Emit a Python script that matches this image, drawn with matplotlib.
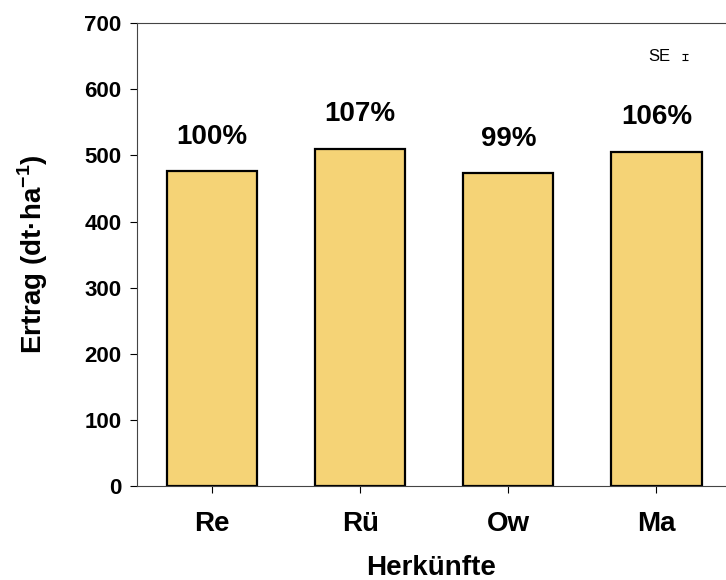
import matplotlib
matplotlib.use('Agg')
import matplotlib.pyplot as plt

plt.rcParams['font.family'] = ['Liberation Sans', 'DejaVu Sans']
plt.rcParams['mathtext.fontset'] = 'custom'
plt.rcParams['mathtext.bf'] = 'Liberation Sans:bold'
plt.rcParams['mathtext.rm'] = 'Liberation Sans:bold'

herkuenfte = ['Re', 'Rü', 'Ow', 'Ma']
ertrag = [476, 510, 473, 505]
relativ = ['100%', '107%', '99%', '106%']
se = 4.5
yticks = [0, 100, 200, 300, 400, 500, 600, 700]

fig = plt.figure(figsize=(7.26, 5.8), dpi=100)
ax = fig.add_axes([0.1887, 0.162, 0.8113, 0.798])

x = range(len(herkuenfte))
ax.bar(x, ertrag, width=0.61, color='#F5D376', edgecolor='black', linewidth=1.6)

for xi, v, lab in zip(x, ertrag, relativ):
    ax.annotate(lab, (xi, v), xytext=(0, 25), textcoords='offset points',
                ha='center', va='center', fontsize=20, fontweight='bold')

# SE legend
ax.errorbar([3.19], [649], yerr=[se], fmt='none', ecolor='black',
            elinewidth=0.8, capsize=2.5, capthick=0.8)
ax.text(3.02, 649, 'SE', ha='center', va='center', fontsize=12)

ax.set_xlim(-0.507, 3.47)
ax.set_ylim(0, 700)
ax.set_yticks(yticks)
ax.set_xticks(list(x))
ax.set_xticklabels(herkuenfte, fontsize=20, fontweight='bold')
for t in ax.get_yticklabels():
    t.set_fontsize(16)
    t.set_fontweight('bold')

ax.tick_params(axis='y', direction='out', length=5, width=0.8, pad=6)
ax.tick_params(axis='x', direction='out', length=5, width=0.8, pad=13)
ax.spines['right'].set_visible(False)
for s in ['left', 'top', 'bottom']:
    ax.spines[s].set_linewidth(0.8)
    ax.spines[s].set_color('#444444')

ax.set_xlabel('Herkünfte', fontsize=20, fontweight='bold', va='center')
ax.set_ylabel(r'Ertrag (dt·ha$^{\mathbf{-1}}$)', fontsize=20, fontweight='bold',
              va='center')
ax.xaxis.set_label_coords(0.5, -0.177)
ax.yaxis.set_label_coords(-0.177, 0.5)

fig.savefig('out.png', dpi=100)
